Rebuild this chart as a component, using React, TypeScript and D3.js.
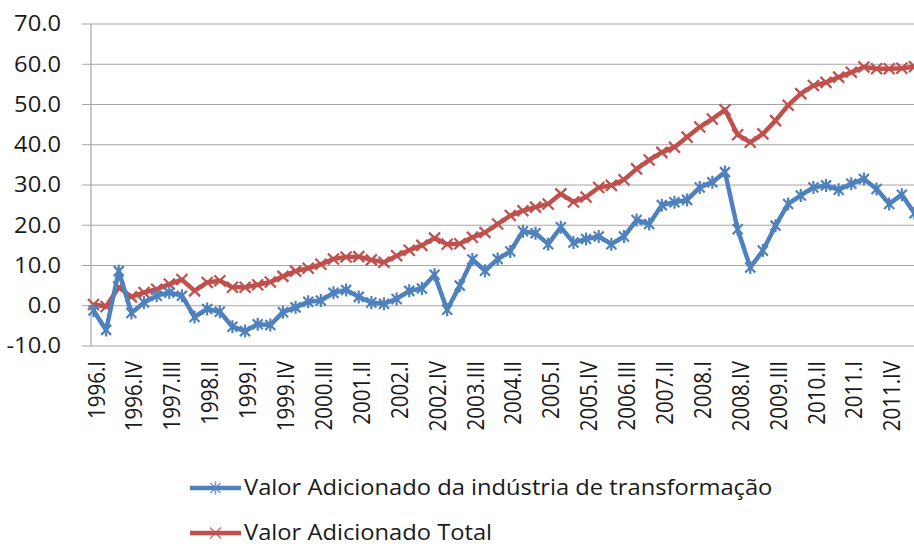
import React from "react";
import * as d3 from "d3";

const years = [1996, 1997, 1998, 1999, 2000, 2001, 2002, 2003, 2004, 2005, 2006, 2007, 2008, 2009, 2010, 2011, 2012];
const quarters = ["I", "II", "III", "IV"];
const categories: string[] = [];
years.forEach((y) => quarters.forEach((q) => categories.push(`${y}.${q}`)));
const shownCategories = categories.slice(0, 66);

const industria = [
  -1.2, -6.0, 8.6, -1.8, 0.8, 2.5, 3.3, 2.5, -2.8, -0.8, -1.5, -5.2, -6.3, -4.6, -4.8, -1.6,
  -0.4, 1.0, 1.3, 3.2, 3.9, 2.2, 0.8, 0.5, 1.7, 3.7, 4.3, 7.7, -1.0, 5.0, 11.5, 8.7,
  11.6, 13.5, 18.5, 18.0, 15.3, 19.5, 15.7, 16.6, 17.2, 15.3, 17.2, 21.3, 20.3, 25.0, 25.7, 26.3,
  29.4, 30.7, 33.2, 19.0, 9.5, 13.7, 19.9, 25.3, 27.4, 29.4, 29.9, 28.8, 30.3, 31.5, 29.0, 25.3,
  27.6, 23.0,
];

const total = [
  0.3, -0.2, 4.6, 2.2, 3.3, 4.1, 5.4, 6.5, 3.7, 5.8, 6.2, 4.6, 4.6, 5.2, 5.9, 7.3,
  8.6, 9.3, 10.3, 11.6, 12.1, 12.2, 11.4, 10.8, 12.4, 13.8, 15.0, 16.8, 15.3, 15.4, 17.0, 18.2,
  20.3, 22.4, 23.6, 24.5, 25.3, 27.8, 25.8, 27.0, 29.4, 29.9, 31.3, 34.0, 36.2, 38.1, 39.4, 41.9,
  44.4, 46.4, 48.7, 42.5, 40.6, 42.7, 46.0, 49.8, 52.7, 54.7, 55.5, 56.8, 58.0, 59.3, 58.9, 58.9,
  59.0, 59.4,
];

const yTicks = [-10, 0, 10, 20, 30, 40, 50, 60, 70];
const seriesNames = ["Valor Adicionado da indústria de transformação", "Valor Adicionado Total"];

const W = 914;
const H = 546;
const BLUE = "#4F81BD";
const RED = "#C0504D";
const FONT = "'Open Sans', 'Liberation Sans', sans-serif";
const SX = 1.13;

export default function App() {
  const x = d3
    .scalePoint<string>()
    .domain(shownCategories)
    .range([93.5, 93.5 + 65 * 12.63]);
  const y = d3.scaleLinear().domain([-10, 70]).range([346, 24]);

  const line = d3
    .line<number>()
    .x((_, i) => x(shownCategories[i]) as number)
    .y((d) => y(d));

  const star = "M-5,-5L5,5M-5,5L5,-5M0,-6.5L0,6.5";
  const cross = "M-5.5,-5.5L5.5,5.5M-5.5,5.5L5.5,-5.5";

  const labelCats = shownCategories.filter((_, i) => i % 3 === 0);

  return (
    <svg
      width={W}
      height={H}
      style={{ position: "absolute", left: 0, top: 0, background: "#fff" }}
      fontFamily={FONT}
    >
      <rect x={0} y={0} width={W} height={H} fill="#fff" />
      {yTicks.map((t) => (
        <g key={t}>
          <line x1={82} x2={W} y1={y(t)} y2={y(t)} stroke="#a6a6a6" strokeWidth={1.2} />
          <text
            transform={`translate(61,${y(t)}) scale(${SX},1)`}
            dy="0.35em"
            textAnchor="end"
            fontSize={21}
            fill="#1a1a1a"
          >
            {t.toFixed(1)}
          </text>
        </g>
      ))}
      <line x1={91} x2={91} y1={y(70)} y2={y(-10)} stroke="#a6a6a6" strokeWidth={1.2} />
      {labelCats.map((c) => {
        const cx = (x(c) as number) + 3;
        return (
          <text
            key={c}
            transform={`translate(${cx},361) scale(${SX},1) rotate(-90)`}
            dy="0.35em"
            textAnchor="end"
            fontSize={20.5}
            fill="#1a1a1a"
          >
            {c}
          </text>
        );
      })}
      <path d={line(total) || ""} fill="none" stroke={RED} strokeWidth={4.5} strokeLinejoin="round" />
      {total.map((v, i) => (
        <path
          key={"r" + i}
          d={cross}
          transform={`translate(${x(shownCategories[i])},${y(v)})`}
          stroke={RED}
          strokeWidth={2.2}
          fill="none"
        />
      ))}
      <path d={line(industria) || ""} fill="none" stroke={BLUE} strokeWidth={4.5} strokeLinejoin="round" />
      {industria.map((v, i) => (
        <path
          key={"b" + i}
          d={star}
          transform={`translate(${x(shownCategories[i])},${y(v)})`}
          stroke={BLUE}
          strokeWidth={2.2}
          fill="none"
        />
      ))}
      {[BLUE, RED].map((col, k) => {
        const ly = 488 + k * 45;
        return (
          <g key={k}>
            <line x1={190} x2={241} y1={ly} y2={ly} stroke={col} strokeWidth={4.5} />
            <path
              d={k === 0 ? star : cross}
              transform={`translate(215.5,${ly})`}
              stroke={col}
              strokeWidth={1.5}
              fill="none"
              opacity={0.8}
            />
            <text
              transform={`translate(244,${ly}) scale(${SX},1)`}
              dy="0.35em"
              fontSize={21}
              fill="#1a1a1a"
            >
              {seriesNames[k]}
            </text>
          </g>
        );
      })}
    </svg>
  );
}
